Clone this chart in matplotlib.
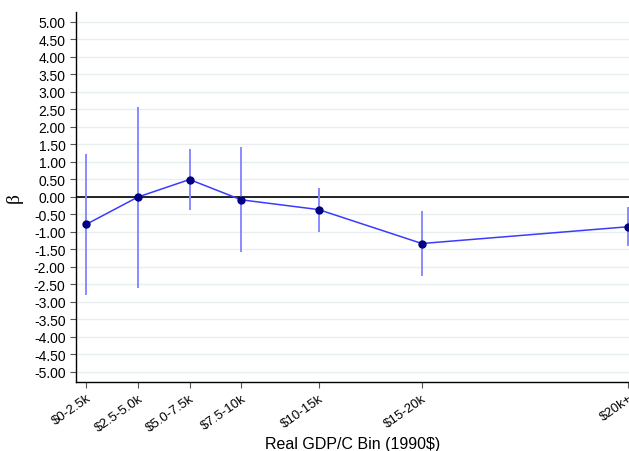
import matplotlib
matplotlib.use("Agg")
import matplotlib.pyplot as plt
import numpy as np

categories = ["$0-2.5k", "$2.5-5.0k", "$5.0-7.5k", "$7.5-10k", "$10-15k", "$15-20k", "$20k+"]
bin_mid = [1.25, 3.75, 6.25, 8.75, 12.5, 17.5, 27.5]
beta = [-0.79, -0.01, 0.49, -0.09, -0.37, -1.34, -0.86]
ci_low = [-2.82, -2.60, -0.39, -1.58, -1.00, -2.26, -1.41]
ci_high = [1.23, 2.57, 1.37, 1.41, 0.26, -0.41, -0.31]
yticks = np.arange(-5.0, 5.01, 0.5)

plt.rcParams['font.family'] = ['Liberation Sans', 'DejaVu Sans']

fig = plt.figure(figsize=(6.29, 4.52), dpi=100)
ax = fig.add_axes([76/629, 1 - 383/452, 1 - 76/629, (383 - 13)/452])

for y in yticks:
    ax.axhline(y, color="#e8eff1", lw=1.0, zorder=0)
ax.axhline(0, color="black", lw=1.2, zorder=1)

ax.vlines(bin_mid, ci_low, ci_high, color="#8a8aff", lw=1.4, zorder=2)
ax.plot(bin_mid, beta, color="#3b3bff", lw=1.1, zorder=3)
ax.plot(bin_mid, beta, "o", color="#000080", ms=5, zorder=4, clip_on=True)

ax.set_xlim(0.75, 27.53)
ax.set_ylim(-5.3, 5.28)
ax.set_yticks(yticks)
ax.set_yticklabels([f"{v:.2f}" for v in yticks], fontsize=10)
ax.set_xticks(bin_mid)
ax.set_xticklabels(categories, rotation=35, ha="right", rotation_mode="anchor", fontsize=9.5)
ax.tick_params(axis="both", direction="out", length=4, width=0.8, color="#555555")
ax.tick_params(axis="x", pad=3)

for s in ["top", "right"]:
    ax.spines[s].set_visible(False)
for s in ["left", "bottom"]:
    ax.spines[s].set_linewidth(1.0)

ax.set_xlabel("Real GDP/C Bin (1990$)", fontsize=11.5, labelpad=2)
ax.set_ylabel("β", fontsize=14, family=["Liberation Serif", "DejaVu Serif"], labelpad=8)

fig.savefig("out.png", dpi=100)
